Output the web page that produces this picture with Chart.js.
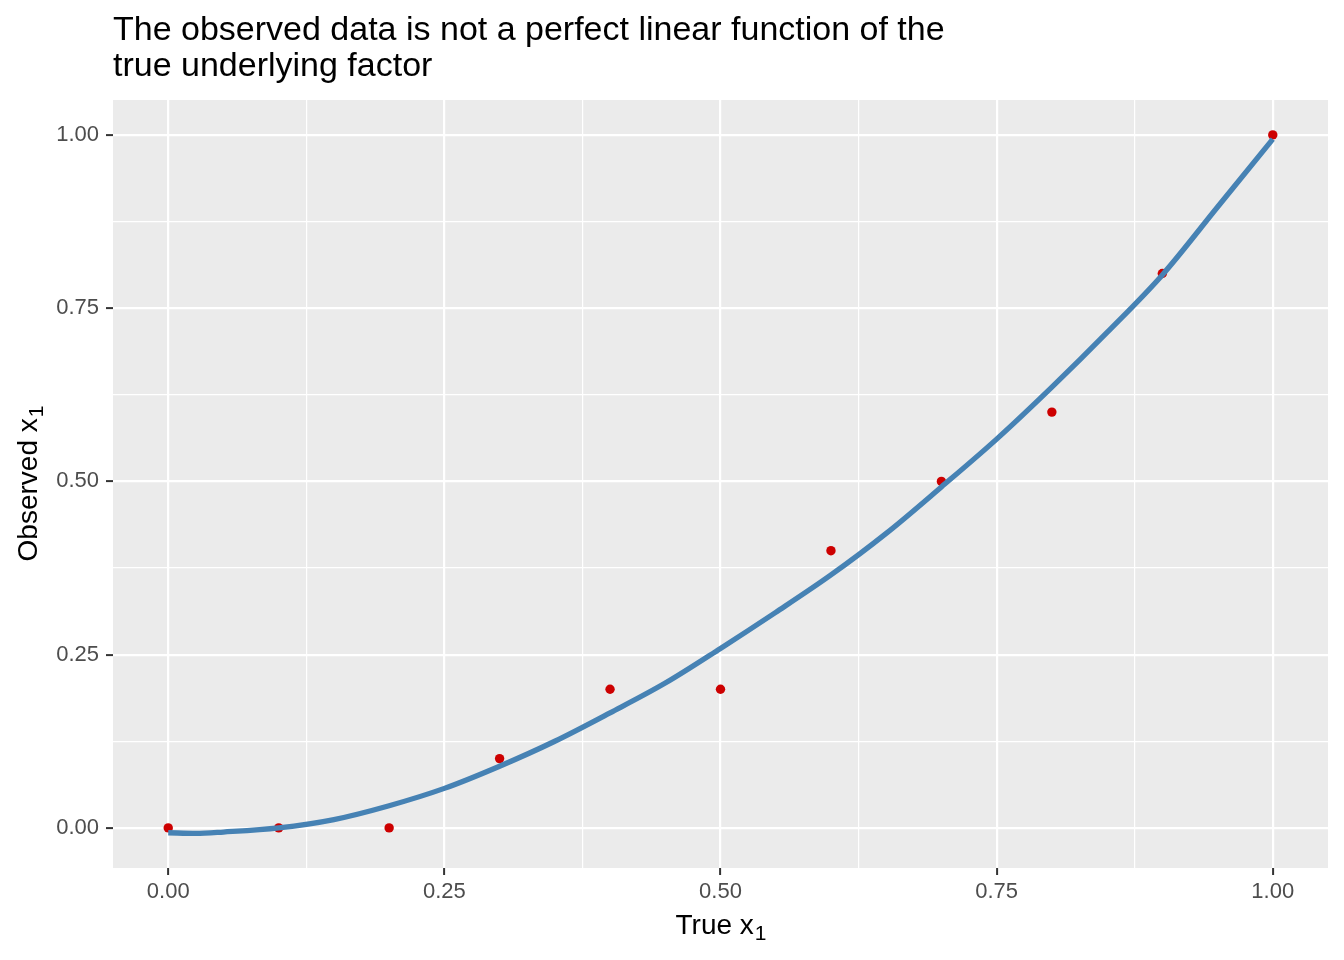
<!DOCTYPE html>
<html>
<head>
<meta charset="utf-8">
<title>Observed vs true x1</title>
<script src="https://cdn.jsdelivr.net/npm/chart.js@4/dist/chart.umd.min.js"></script>
<style>
  html, body { margin: 0; padding: 0; background: #ffffff; }
  canvas { display: block; }
</style>
</head>
<body>
<canvas id="chart" width="1344" height="960" style="width:1344px;height:960px"></canvas>
<script>
// observed points
const trueX = [0, 0.1, 0.2, 0.3, 0.4, 0.5, 0.6, 0.7, 0.8, 0.9, 1.0];
const observedX = [0, 0, 0, 0.1, 0.2, 0.2, 0.4, 0.5, 0.6, 0.8, 1.0];

// smooth curve
const curveX = [0, 0.025, 0.05, 0.1, 0.15, 0.2, 0.25, 0.3, 0.35, 0.4, 0.45, 0.5,
                0.55, 0.6, 0.65, 0.7, 0.75, 0.8, 0.85, 0.9, 0.95, 1.0];
const curveY = [-0.007, -0.008, -0.006, 0.000, 0.012, 0.032, 0.057, 0.089, 0.125, 0.166, 0.209, 0.259,
                0.311, 0.365, 0.425, 0.492, 0.561, 0.636, 0.715, 0.798, 0.896, 0.994];

// axis ticks (major labelled, minor only as grid lines)
const majorTicks = [0, 0.25, 0.5, 0.75, 1.0];
const minorTicks = [0.125, 0.375, 0.625, 0.875];

const titleLines = ['The observed data is not a perfect linear function of the', 'true underlying factor'];

Chart.defaults.font.family = '"Liberation Sans", Arial, sans-serif';

const isMajor = v => majorTicks.some(m => Math.abs(m - v) < 1e-9);
const allTicks = majorTicks.concat(minorTicks).sort((a, b) => a - b);

// grey panel behind the grid
const panelBg = {
    id: 'panelBg',
    beforeDraw(chart) {
        const a = chart.chartArea;
        const ctx = chart.ctx;
        ctx.save();
        ctx.fillStyle = '#EBEBEB';
        ctx.fillRect(a.left, a.top, a.right - a.left, a.bottom - a.top);
        ctx.restore();
    }
};

// axis titles with a subscript "1"
function drawSubText(ctx, main, sub, x, y) {
    ctx.font = '28px "Liberation Sans", Arial, sans-serif';
    const w1 = ctx.measureText(main).width;
    ctx.font = '21px "Liberation Sans", Arial, sans-serif';
    const w2 = ctx.measureText(sub).width;
    const start = x - (w1 + w2) / 2;
    ctx.textAlign = 'left';
    ctx.textBaseline = 'alphabetic';
    ctx.font = '28px "Liberation Sans", Arial, sans-serif';
    ctx.fillText(main, start, y);
    ctx.font = '21px "Liberation Sans", Arial, sans-serif';
    ctx.fillText(sub, start + w1 + 1, y + 6);
}

const axisTitles = {
    id: 'axisTitles',
    afterDraw(chart) {
        const a = chart.chartArea;
        const ctx = chart.ctx;
        ctx.save();
        ctx.fillStyle = '#000000';
        drawSubText(ctx, 'True x', '1', (a.left + a.right) / 2, 934);
        ctx.translate(37, (a.top + a.bottom) / 2);
        ctx.rotate(-Math.PI / 2);
        drawSubText(ctx, 'Observed x', '1', 0, 0);
        ctx.restore();
    }
};

function axisOptions(min, max, isX) {
    return {
        type: 'linear',
        min: min,
        max: max,
        afterBuildTicks: s => { s.ticks = allTicks.map(v => ({ value: v })); },
        afterFit: s => {
            if (isX) s.height = 92; else s.width = 113;
        },
        border: { display: false },
        grid: {
            color: '#FFFFFF',
            lineWidth: c => isMajor(c.tick.value) ? 2.2 : 1.2,
            drawTicks: true,
            tickLength: 7,
            tickWidth: 2,
            tickColor: c => isMajor(c.tick.value) ? '#333333' : 'rgba(0,0,0,0)'
        },
        ticks: {
            autoSkip: false,
            maxRotation: 0,
            padding: isX ? 4 : 7,
            color: '#4D4D4D',
            font: { size: 22 },
            callback: v => isMajor(v) ? v.toFixed(2) : ''
        }
    };
}

new Chart(document.getElementById('chart'), {
    type: 'scatter',
    data: {
        datasets: [
            {
                label: 'smooth',
                data: curveX.map((x, i) => ({ x: x, y: curveY[i] })),
                showLine: true,
                borderColor: '#4682B4',
                borderWidth: 5.3,
                pointRadius: 0,
                cubicInterpolationMode: 'monotone',
                fill: false
            },
            {
                label: 'observed',
                data: trueX.map((x, i) => ({ x: x, y: observedX[i] })),
                showLine: false,
                pointRadius: 4.7,
                pointBackgroundColor: '#CD0000',
                pointBorderColor: '#CD0000',
                pointBorderWidth: 0
            }
        ]
    },
    options: {
        responsive: false,
        devicePixelRatio: 1,
        animation: false,
        layout: { padding: { left: 0, right: 16, top: 0, bottom: 0 } },
        plugins: {
            legend: { display: false },
            tooltip: { enabled: false },
            title: {
                display: true,
                text: titleLines,
                align: 'start',
                fullSize: false,
                color: '#000000',
                font: { size: 34, weight: 'normal', lineHeight: 1.08 },
                padding: { top: 12, bottom: 14.56 }
            }
        },
        scales: {
            x: axisOptions(-0.05, 1.05, true),
            y: axisOptions(-0.0579, 1.0504, false)
        }
    },
    plugins: [panelBg, axisTitles]
});
</script>
</body>
</html>
